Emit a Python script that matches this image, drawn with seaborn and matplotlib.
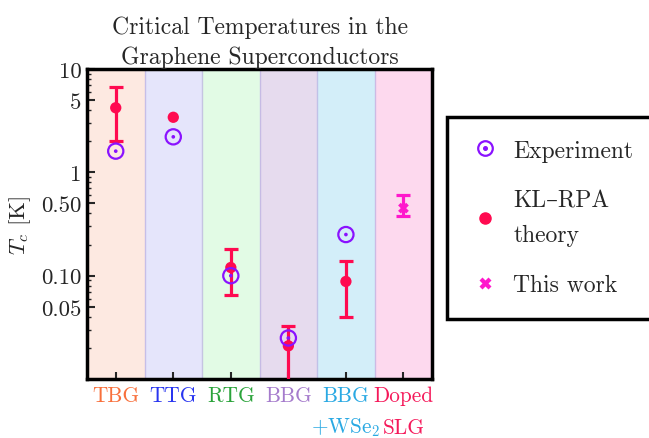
import matplotlib
matplotlib.use("Agg")
import matplotlib.pyplot as plt
import seaborn as sns
import numpy as np
import pandas as pd
from matplotlib.legend_handler import HandlerTuple
from matplotlib.lines import Line2D
from matplotlib.ticker import FixedLocator, LogLocator, NullFormatter

# ---------------- data ----------------
categories = ["TBG", "TTG", "RTG", "BBG", "BBG\n+WSe$_2$", "Doped\nSLG"]
cat_colors = ["#f8703c", "#2936f0", "#2aa33a", "#a57bcc", "#2aa9e3", "#f5195a"]
band_colors = ["#fde9e1", "#e5e5fb", "#e2fbe5", "#e6dbee", "#d3eef9", "#fdd9ee"]

exp_x = [1, 2, 3, 4, 5]
exp_y = [1.6, 2.2, 0.10, 0.025, 0.25]

th_x = [1, 2, 3, 4, 5]
th_y = [4.2, 3.4, 0.12, 0.021, 0.088]
th_lo = [2.0, np.nan, 0.065, 0.005, 0.04]
th_hi = [6.6, np.nan, 0.18, 0.033, 0.14]

tw_x = [6]
tw_y = [0.45]
tw_lo = [0.375]
tw_hi = [0.60]

ytick_vals = [0.05, 0.1, 0.5, 1, 5, 10]
ytick_labels = ["0.05", "0.10", "0.50", "1", "5", "10"]

title = "Critical Temperatures in the\nGraphene Superconductors"

# ---------------- style ----------------
sns.set_theme(style="ticks")
plt.rcParams["font.family"] = ["cmr10", "DejaVu Serif"]
plt.rcParams["mathtext.fontset"] = "cm"
plt.rcParams["axes.formatter.use_mathtext"] = True

c_exp = "#8a12ff"
c_th = "#ff0a50"
c_tw = "#ff18cc"

fig = plt.figure(figsize=(6.49, 4.39), dpi=100)
ax = fig.add_axes([0.134, 0.134, 0.532, 0.707])

# bands
for i, bc in enumerate(band_colors):
    ax.axvspan(i + 0.5, i + 1.5, facecolor=bc, edgecolor="none", zorder=0)
for i in range(1, len(band_colors)):
    ax.axvline(i + 0.5, color="#b9aee0", lw=1.0, alpha=0.7, zorder=0.5)

df_th = pd.DataFrame({"x": th_x, "y": th_y, "lo": th_lo, "hi": th_hi})
df_exp = pd.DataFrame({"x": exp_x, "y": exp_y})
df_tw = pd.DataFrame({"x": tw_x, "y": tw_y, "lo": tw_lo, "hi": tw_hi})

# theory error bars (only where bounds exist)
df_the = df_th.dropna()
ax.errorbar(df_the["x"], df_the["y"],
            yerr=[df_the["y"] - df_the["lo"], df_the["hi"] - df_the["y"]],
            fmt="none", ecolor=c_th, elinewidth=2.3, capsize=4.8, capthick=2.3, zorder=3)
sns.scatterplot(data=df_th, x="x", y="y", ax=ax, color=c_th, s=66, marker="o",
                edgecolor="none", zorder=4, legend=False)

# experiment: circled dot
sns.scatterplot(data=df_exp, x="x", y="y", ax=ax, s=120, marker="o",
                facecolor="none", edgecolor=c_exp, linewidth=1.6, zorder=5, legend=False)
sns.scatterplot(data=df_exp, x="x", y="y", ax=ax, s=7, marker="o",
                color=c_exp, edgecolor="none", zorder=6, legend=False)

# this work
ax.errorbar(df_tw["x"], df_tw["y"],
            yerr=[df_tw["y"] - df_tw["lo"], df_tw["hi"] - df_tw["y"]],
            fmt="none", ecolor=c_tw, elinewidth=2.3, capsize=4.8, capthick=2.3, zorder=3)
sns.scatterplot(data=df_tw, x="x", y="y", ax=ax, s=60, marker="X", color=c_tw,
                edgecolor="none", zorder=4, legend=False)

ax.set_yscale("log")
ax.set_ylim(0.01, 10)
ax.set_xlim(0.5, 6.5)

ax.yaxis.set_major_locator(FixedLocator(ytick_vals))
ax.set_yticklabels(ytick_labels, fontsize=16.5)
ax.yaxis.set_minor_locator(LogLocator(base=10, subs=np.arange(1, 10) * 1.0, numticks=20))
ax.yaxis.set_minor_formatter(NullFormatter())
ax.tick_params(axis="y", which="major", direction="in", length=6, width=1.5, pad=4)
ax.tick_params(axis="y", which="minor", direction="in", length=3, width=1.0)

ax.set_xticks(range(1, 7))
ax.set_xticklabels([])
ax.tick_params(axis="x", which="major", direction="in", length=5, width=1.5)
ax.tick_params(axis="x", which="minor", bottom=False)

# category labels, each line placed separately
for i, (lab, col) in enumerate(zip(categories, cat_colors)):
    lines = lab.split("\n")
    for j, ln in enumerate(lines):
        ax.annotate(ln, xy=(i + 1, 0), xycoords=ax.get_xaxis_transform(),
                    xytext=(0, -16 - 32 * j), textcoords="offset pixels",
                    ha="center", va="center", color=col, fontsize=15.3)

for sp in ax.spines.values():
    sp.set_linewidth(2.5)
    sp.set_color("black")

ax.set_xlabel("")
ax.set_ylabel("$T_c$ [K]", fontsize=16.5, labelpad=6)
ax.set_title(title, fontsize=17, linespacing=1.45, pad=4)

# legend
h_exp = (Line2D([], [], ls="none", marker="o", ms=10.5, mfc="none", mec=c_exp, mew=1.6),
         Line2D([], [], ls="none", marker="o", ms=2.6, color=c_exp))
h_th = Line2D([], [], ls="none", marker="o", ms=8, color=c_th)
h_tw = Line2D([], [], ls="none", marker="X", ms=8, color=c_tw, mec="none")
leg = fig.legend([h_exp, h_th, h_tw], ["Experiment", "KL\u2013RPA\ntheory", "This work"],
                 handler_map={tuple: HandlerTuple(ndivide=1, pad=0)},
                 loc="upper left", bbox_to_anchor=(0.689, 0.731), fontsize=17,
                 frameon=True, fancybox=False, edgecolor="black", framealpha=1,
                 borderpad=0.95, labelspacing=1.17, handletextpad=0.55, handlelength=1.3,
                 borderaxespad=0)
for t in leg.get_texts():
    t.set_linespacing(1.75)
leg.get_frame().set_linewidth(2.5)

fig.savefig("out.png", dpi=100)
